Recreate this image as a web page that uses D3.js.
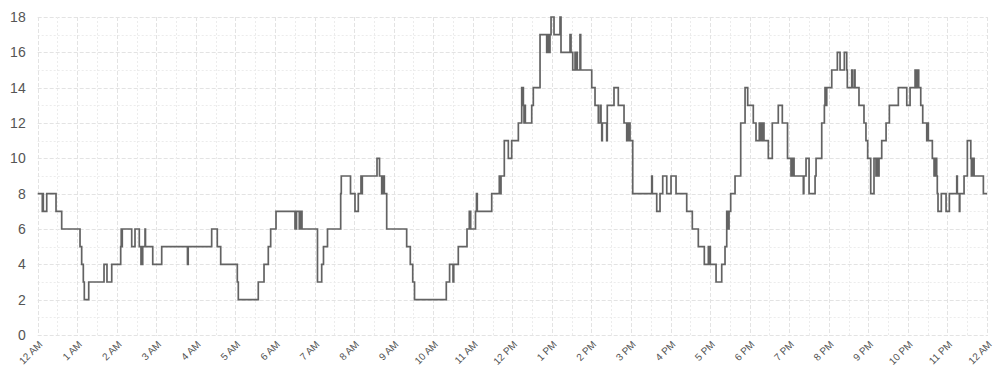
<!DOCTYPE html>
<html>
<head>
<meta charset="utf-8">
<script src="https://cdn.jsdelivr.net/npm/d3@7"></script>
<style>
  html, body { margin: 0; padding: 0; background: #fff; }
  svg { display: block; }
  text { font-family: "Liberation Sans", Arial, Helvetica, sans-serif; -webkit-font-smoothing: antialiased; }
</style>
</head>
<body>
<svg id="chart" width="993" height="367"></svg>
<script>
// ---- data: change points (minutes since midnight) and the step value from that minute ----
const changeMinutes = [
  0, 7.0, 7.7, 8.5, 13.7, 27.8, 36.4, 64.2, 66.7, 69.2, 70.7, 77.4, 100.6, 105.1, 112.3,
  125.9, 126.7, 127.4, 128.3, 142.6, 147.6, 154.1, 156.7, 157.5, 158.2, 159.3, 162.8, 163.5,
  174.5, 188.1, 227.2, 228.3, 263.9, 272.4, 277.6, 302.8, 304.3, 334.6, 343.3, 349.8, 353.4,
  361.5, 390.3, 392.6, 396.8, 398.9, 400.9, 424.4, 430.8, 433.5,
  439.6, 459.6, 460.5, 474.5, 481.3, 486.3, 490.4, 491.5, 492.4, 514.7, 518.5, 521.8, 522.7,
  523.8, 524.9, 525.8, 529.4, 559.7, 565.2, 568.9, 571.6, 619.8, 624.8, 630.0, 631.1, 638.0,
  651.2, 654.7, 656.8, 664.1, 665.6, 666.8, 688.7, 700.2, 701.0, 702.8, 707.8, 713.9, 719.0,
  729.1, 734.2, 736.7, 737.7, 738.8, 739.7, 749.4, 751.8, 762.0, 772.1, 774.6, 775.6, 777.1,
  778.7, 783.2, 792.3, 793.8, 807.5, 809.0, 811.6, 815.1, 816.1, 817.6, 818.5, 822.6, 823.7,
  840.4, 845.4, 850.4, 853.4, 854.5, 855.6, 856.5, 863.1, 864.0, 874.2, 880.7, 889.4, 893.5,
  895.0, 895.9, 897.4, 898.5, 902.6, 931.4, 932.3, 939.0, 944.0, 948.1, 954.2, 960.7, 968.3,
  984.5, 993.0, 1002.1, 1011.2, 1017.3, 1018.3, 1019.4, 1020.3, 1029.0, 1037.6, 1042.6, 1045.2,
  1047.6, 1048.7, 1051.2, 1057.8, 1066.4, 1073.0, 1077.0, 1085.5, 1089.6, 1094.6, 1095.7,
  1096.7, 1097.6, 1098.7, 1099.8, 1100.7, 1101.7, 1108.3, 1114.3, 1123.4, 1129.5, 1137.4,
  1142.7, 1143.8, 1144.7, 1146.2, 1147.3, 1161.4, 1162.2, 1165.5, 1170.1, 1179.2, 1180.7,
  1189.3, 1193.3, 1194.3, 1195.4, 1196.9, 1204.5, 1213.0, 1217.1, 1223.6, 1227.2, 1228.1,
  1234.8, 1235.7, 1238.7, 1239.8, 1245.8, 1253.4, 1256.4, 1259.0, 1263.6, 1268.6, 1271.6,
  1273.2, 1275.1, 1276.2, 1280.3, 1286.9, 1291.9, 1305.5, 1318.3, 1323.3, 1330.9, 1332.4,
  1334.9, 1336.4, 1339.5, 1342.5, 1348.6, 1349.5, 1351.0, 1357.1, 1359.7, 1360.7,
  1361.6, 1362.7, 1363.7, 1364.6, 1365.7, 1370.7, 1377.9, 1382.9, 1394.1, 1395.0, 1398.1,
  1398.8, 1405.2, 1410.2, 1415.4, 1416.3, 1417.4, 1418.4, 1419.3, 1420.4, 1434.5, 1440
];
const counts = [
  8, 7, 8, 7, 8, 7, 6, 5, 4, 3, 2, 3, 4, 3, 4,
  5, 6, 5, 6, 5, 6, 5, 4, 5, 4, 5, 6, 5,
  4, 5, 4, 5, 6, 5, 4, 3, 2, 3, 4, 5, 6,
  7, 6, 7, 6, 7, 6, 3, 4, 5,
  6, 8, 9, 8, 7, 8, 9, 8, 9, 10, 9, 8, 9,
  8, 9, 8, 6, 5, 4, 3, 2, 3, 4, 3, 4, 5,
  6, 7, 6, 7, 8, 7, 8, 9, 8, 9, 11, 10, 11,
  12, 14, 13, 12, 13, 12, 13, 14, 17, 16, 17, 16, 17,
  18, 17, 18, 16, 17, 16, 15, 16, 15, 16, 15, 17, 15,
  14, 13, 12, 13, 12, 11, 12, 11, 13, 14, 13, 12, 11,
  12, 11, 12, 11, 8, 9, 8, 7, 8, 9, 8, 9, 8,
  7, 6, 5, 4, 5, 4, 5, 4, 3, 4, 5, 7,
  6, 7, 8, 9, 12, 14, 13, 12, 11, 12, 11,
  12, 11, 12, 11, 12, 11, 10, 12, 13, 12, 10,
  9, 10, 9, 10, 9, 8, 9, 10, 8, 9, 10,
  12, 13, 14, 13, 14, 15, 16, 15, 16, 15, 14,
  15, 14, 15, 14, 13, 12, 11, 10, 8, 10, 9,
  10, 9, 10, 11, 12, 13, 14, 13, 14, 15, 14,
  15, 14, 13, 12, 11, 12, 11, 10, 9, 10,
  9, 10, 9, 8, 7, 8, 7, 8, 9, 8, 7,
  8, 9, 11, 10, 9, 10, 9, 10, 9, 8, 8
];
const yTicks = [0, 2, 4, 6, 8, 10, 12, 14, 16, 18];
const hourLabels = [
  "12 AM", "1 AM", "2 AM", "3 AM", "4 AM", "5 AM", "6 AM", "7 AM", "8 AM", "9 AM", "10 AM", "11 AM",
  "12 PM", "1 PM", "2 PM", "3 PM", "4 PM", "5 PM", "6 PM", "7 PM", "8 PM", "9 PM", "10 PM", "11 PM", "12 AM"
];

// ---- chart ----
const svg = d3.select("#chart");
const plotLeft = 37.7, plotRight = 987, plotTop = 17, plotBottom = 335;
const x = d3.scaleLinear().domain([0, 1440]).range([plotLeft, plotRight]);
const y = d3.scaleLinear().domain([0, 18]).range([plotBottom, plotTop]);

const grid = svg.append("g");
// horizontal grid every 1 unit
d3.range(0, 19).forEach(v => {
  grid.append("line")
    .attr("x1", plotLeft).attr("x2", plotRight)
    .attr("y1", Math.round(y(v)) + 0.5).attr("y2", Math.round(y(v)) + 0.5)
    .attr("stroke", v % 2 === 0 ? "#e3e3e3" : "#ececec")
    .attr("stroke-width", 1)
    .attr("stroke-dasharray", v % 2 === 0 ? "4,2" : "2,2");
});
// vertical grid every 30 minutes
d3.range(0, 1441, 30).forEach(m => {
  grid.append("line")
    .attr("x1", Math.round(x(m)) + 0.5).attr("x2", Math.round(x(m)) + 0.5)
    .attr("y1", plotTop).attr("y2", plotBottom + 1)
    .attr("stroke", m % 60 === 0 ? "#e3e3e3" : "#ececec")
    .attr("stroke-width", 1)
    .attr("stroke-dasharray", m % 60 === 0 ? "4,2" : "2,2");
});

// y axis labels
const yAxis = d3.axisLeft(y).tickValues(yTicks).tickSize(0).tickPadding(12);
const gy = svg.append("g").attr("transform", `translate(${plotLeft},0)`).call(yAxis);
gy.select(".domain").remove();
gy.selectAll("text").attr("fill", "#555").style("font-size", "14px")
  .style("font-family", '"Liberation Sans", Arial, sans-serif');

// x axis labels (hour ticks), rotated
const xAxis = d3.axisBottom(x).tickValues(d3.range(0, 1441, 60))
  .tickFormat((d, i) => hourLabels[i]).tickSize(0);
const gx = svg.append("g").attr("transform", `translate(0,${plotBottom})`).call(xAxis);
gx.select(".domain").remove();
gx.selectAll("text")
  .attr("fill", "#555")
  .style("font-size", "10px")
  .style("font-family", '"Liberation Sans", Arial, sans-serif')
  .attr("text-anchor", "end")
  .attr("dy", null)
  .attr("y", 0)
  .attr("transform", "translate(5,10) rotate(-45)");

// step line
const pts = changeMinutes.map((m, i) => [m, counts[i]]);
const line = d3.line().x(d => x(d[0])).y(d => y(d[1])).curve(d3.curveStepAfter);
svg.append("path")
  .datum(pts)
  .attr("fill", "none")
  .attr("stroke", "#636363")
  .attr("stroke-width", 1.7)
  .attr("d", line);
</script>
</body>
</html>
